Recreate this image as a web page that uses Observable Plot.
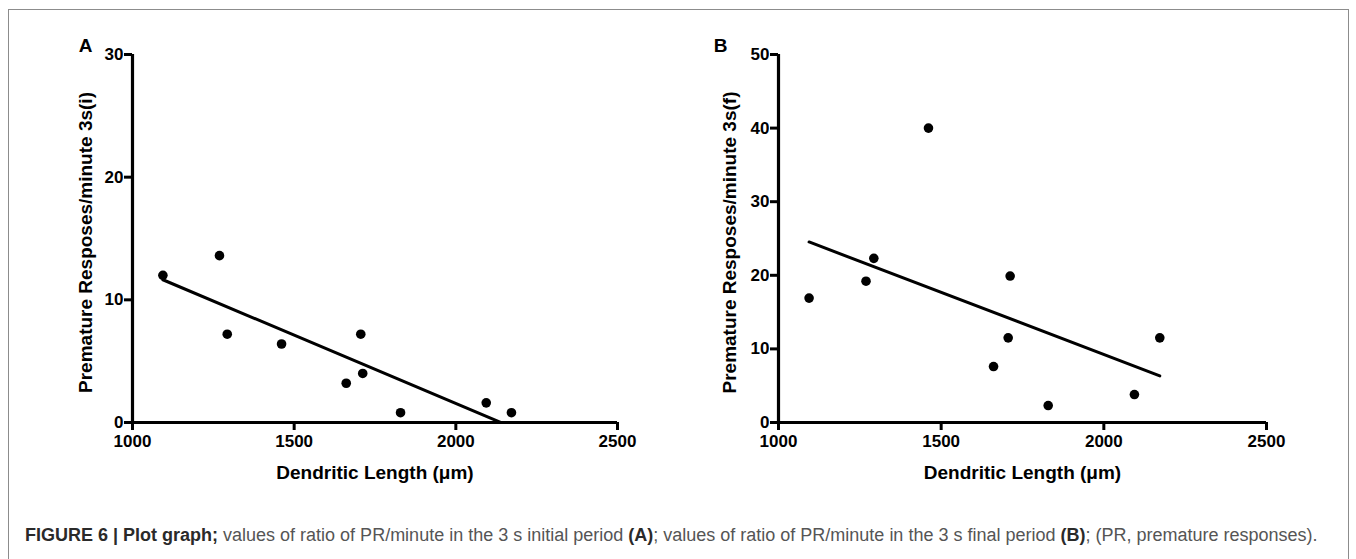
<!DOCTYPE html>
<html>
<head>
<meta charset="utf-8">
<script src="https://cdn.jsdelivr.net/npm/d3@7"></script>
<script src="https://cdn.jsdelivr.net/npm/@observablehq/plot@0.6"></script>
<style>
  html, body { margin: 0; padding: 0; background: #fff; width: 1356px; height: 559px; overflow: hidden; }
  #frame { position: absolute; left: 8px; top: 9px; width: 1341px; height: 570px; border: 1.5px solid #8c8c8c; box-sizing: border-box; }
  #panelA { position: absolute; left: 0; top: 0; }
  #panelB { position: absolute; left: 680px; top: 0; }
  #caption { position: absolute; left: 25px; top: 526px; line-height: 1; font-family: "Liberation Sans", Arial, sans-serif; font-size: 18px; color: #555; white-space: nowrap; }
  #caption b { color: #2a2a2a; }
</style>
</head>
<body>
<div id="frame"></div>
<div id="panelA"></div>
<div id="panelB"></div>
<div id="caption"><b>FIGURE 6 | Plot graph;</b> values of ratio of PR/minute in the 3 s initial period <b>(A)</b>; values of ratio of PR/minute in the 3 s final period <b>(B)</b>; (PR, premature responses).</div>
<script>
// Data
const dendriticLength = [1094, 1269, 1293, 1461, 1661, 1706, 1712, 1829, 2094, 2172];
const prInitial = [12.0, 13.6, 7.2, 6.4, 3.2, 7.2, 4.0, 0.8, 1.6, 0.8];
const prFinal = [16.9, 19.2, 22.3, 40.0, 7.6, 11.5, 19.9, 2.3, 3.8, 11.5];
const xTicks = [1000, 1500, 2000, 2500];
const yTicksA = [0, 10, 20, 30];
const yTicksB = [0, 10, 20, 30, 40, 50];
const xTitle = "Dendritic Length (\u03bcm)";
const yTitleA = "Premature Resposes/minute 3s(i)";
const yTitleB = "Premature Resposes/minute 3s(f)";

const font = "'Liberation Sans', Arial, Helvetica, sans-serif";

function panel({ys, yMax, yTicks, yTitle, letter, width, marginLeft, marginRight, letterDx, yTitleDx}) {
  const data = dendriticLength.map((x, i) => ({x, y: ys[i]}));
  return Plot.plot({
    width, height: 500,
    marginLeft, marginRight, marginTop: 54, marginBottom: 78,
    style: {fontFamily: font, fontSize: "17px", fontWeight: "bold", color: "black", background: "transparent", overflow: "visible"},
    x: {domain: [1000, 2500]},
    y: {domain: [0, yMax]},
    marks: [
      Plot.axisX({ticks: xTicks, tickSize: 8, tickPadding: 4, strokeWidth: 3, tickFormat: d => String(d), label: null, fill: "black", fontSize: 17, fontWeight: "bold"}),
      Plot.axisY({ticks: yTicks, tickSize: 8, tickPadding: 1, strokeWidth: 3, tickFormat: d => String(d), label: null, fill: "black", fontSize: 17, fontWeight: "bold"}),
      Plot.ruleX([1000], {stroke: "black", strokeWidth: 3.2}),
      Plot.ruleY([0], {stroke: "black", strokeWidth: 3.2}),
      Plot.linearRegressionY(data, {x: "x", y: "y", ci: 0, stroke: "black", strokeWidth: 3, clip: true}),
      Plot.dot(data, {x: "x", y: "y", r: 4.8, fill: "black", stroke: "none"}),
      Plot.text([xTitle], {frameAnchor: "bottom", dy: 50, lineAnchor: "middle", fontSize: 19, fontWeight: "bold", fill: "black"}),
      Plot.text([yTitle], {frameAnchor: "left", dx: yTitleDx, dy: 4, rotate: -90, lineAnchor: "middle", textAnchor: "middle", fontSize: 19, fontWeight: "bold", fill: "black"}),
      Plot.text([letter], {frameAnchor: "top-left", dx: letterDx, dy: -9, lineAnchor: "middle", textAnchor: "middle", fontSize: 19, fontWeight: "bold", fill: "black"})
    ]
  });
}

document.getElementById("panelA").appendChild(panel({
  ys: prInitial, yMax: 30, yTicks: yTicksA, yTitle: yTitleA, letter: "A",
  width: 680, marginLeft: 132, marginRight: 63, letterDx: -47, yTitleDx: -47
}));
document.getElementById("panelB").appendChild(panel({
  ys: prFinal, yMax: 50, yTicks: yTicksB, yTitle: yTitleB, letter: "B",
  width: 676, marginLeft: 98, marginRight: 90, letterDx: -58, yTitleDx: -49
}));
</script>
</body>
</html>
